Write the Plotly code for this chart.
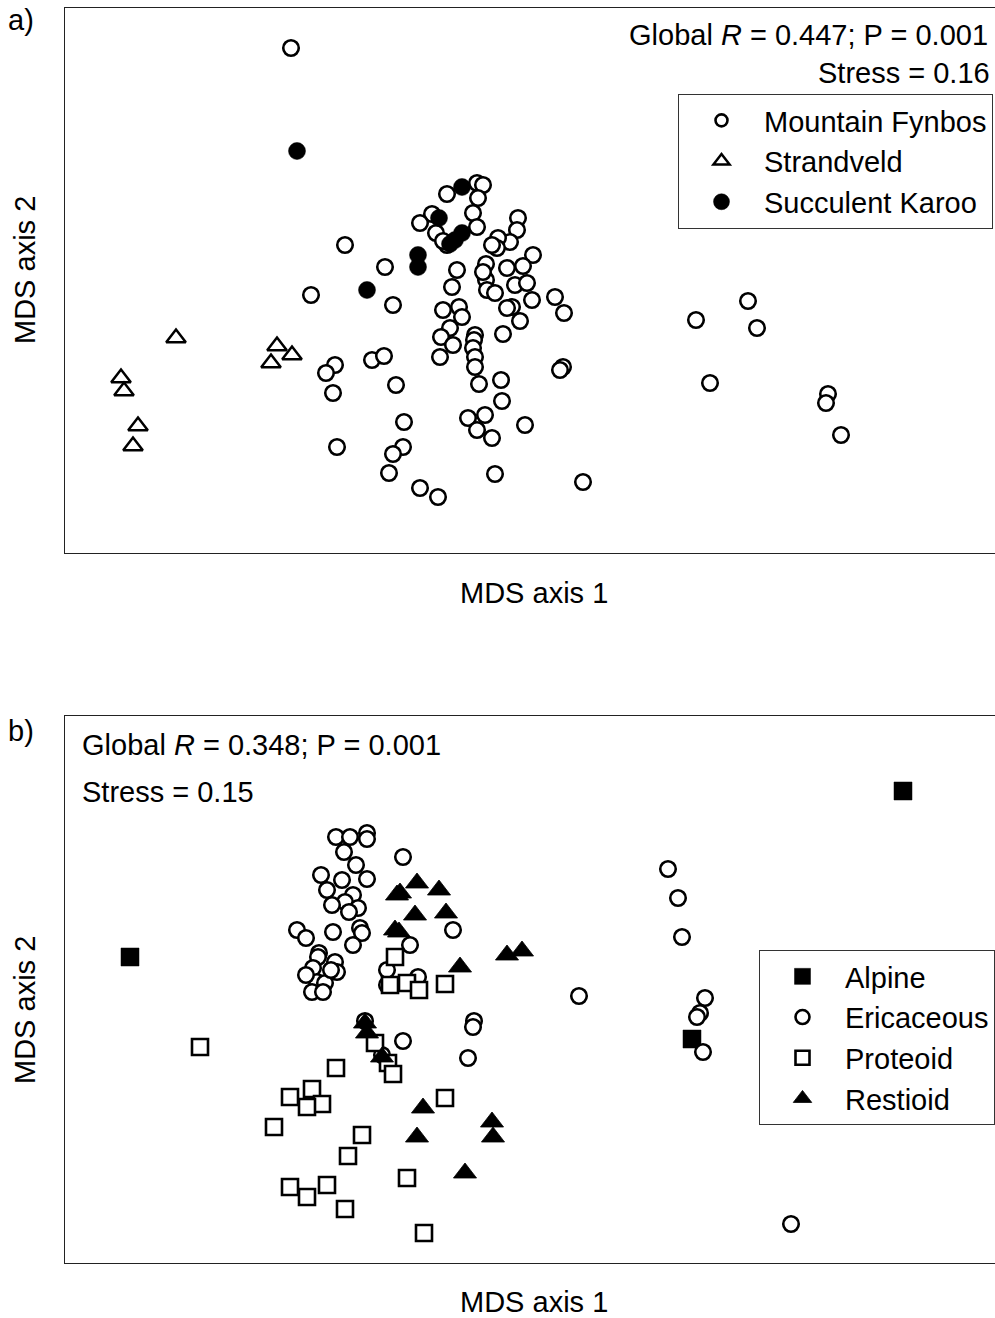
import plotly.graph_objects as go

# ---------------- Panel a: MDS coordinates ----------------
fyn_x = [291, 447, 477, 483, 478, 432, 420, 436, 473, 477, 447, 443, 518, 517, 510, 498, 497, 533, 486, 507,
         523, 457, 452, 486, 487, 495, 515, 527, 532, 512, 507, 520, 555, 564, 443, 459, 462, 450, 441, 453,
         440, 475, 474, 473, 475, 475, 503, 563, 560, 393, 479, 501, 396, 502, 404, 468, 485, 477, 492, 525,
         403, 393, 389, 495, 420, 438, 583, 345, 385, 311, 335, 326, 372, 384, 337, 333, 696, 748, 757, 710,
         828, 826, 841, 483, 492]
fyn_y = [48, 194, 183, 185, 198, 214, 223, 233, 213, 227, 245, 241, 218, 230, 242, 238, 248, 255, 264, 268,
         266, 270, 287, 280, 290, 293, 285, 283, 300, 307, 308, 321, 297, 313, 310, 307, 317, 328, 337, 345,
         357, 335, 340, 348, 357, 367, 334, 367, 370, 305, 384, 380, 385, 401, 422, 418, 415, 430, 438, 425,
         447, 454, 473, 474, 488, 497, 482, 245, 267, 295, 365, 373, 360, 356, 447, 393, 320, 301, 328, 383,
         394, 403, 435, 272, 245]

str_x = [176, 277, 271, 292, 121, 124, 138, 133]
str_y = [338, 346, 363, 355, 378, 391, 426, 446]

suc_x = [297, 462, 439, 462, 455, 450, 418, 418, 367]
suc_y = [151, 187, 218, 233, 240, 244, 255, 267, 290]

# ---------------- Panel b ----------------
alp_x = [130, 903, 692]
alp_y = [957, 791, 1039]

eri_x = [336, 350, 367, 367, 344, 356, 403, 321, 342, 367, 327, 353, 345, 332, 358, 349, 297, 333, 360, 362,
         306, 353, 319, 318, 335, 337, 313, 317, 325, 312, 323, 453, 410, 387, 418, 387, 365, 403, 474, 473,
         468, 382, 579, 668, 678, 682, 705, 700, 697, 703, 791, 306, 331]
eri_y = [837, 837, 833, 839, 852, 865, 857, 875, 880, 879, 890, 895, 902, 905, 908, 912, 930, 932, 928, 933,
         938, 945, 953, 957, 962, 972, 968, 982, 983, 992, 992, 930, 945, 970, 977, 985, 1021, 1041, 1021, 1027,
         1058, 1055, 996, 869, 898, 937, 998, 1013, 1017, 1052, 1224, 975, 970]

pro_x = [395, 390, 407, 419, 445, 375, 388, 393, 336, 312, 290, 322, 307, 274, 362, 348, 407, 445, 290, 307,
         327, 345, 424, 200]
pro_y = [957, 985, 983, 990, 984, 1043, 1063, 1074, 1068, 1089, 1097, 1104, 1107, 1127, 1135, 1156, 1178, 1098, 1187, 1197,
         1185, 1209, 1233, 1047]

res_x = [417, 439, 397, 400, 415, 446, 395, 399, 460, 365, 367, 382, 423, 417, 492, 493, 465, 507, 522]
res_y = [883, 890, 895, 893, 915, 913, 930, 932, 967, 1023, 1033, 1057, 1108, 1137, 1122, 1137, 1173, 955, 951]

FONT = "Liberation Sans, Arial, sans-serif"
FS = 29
INK = "black"

fig = go.Figure()

def add(x, y, name, symbol, size, fill, lw, xa, ya, legend, lsize):
    fig.add_trace(go.Scatter(x=x, y=y, mode="markers", xaxis=xa, yaxis=ya, showlegend=False, hoverinfo="skip",
                             marker=dict(symbol=symbol, size=size, color=fill, line=dict(color=INK, width=lw))))
    fig.add_trace(go.Scatter(x=[None], y=[None], mode="markers", xaxis=xa, yaxis=ya, name=name, legend=legend,
                             marker=dict(symbol=symbol, size=lsize, color=fill, line=dict(color=INK, width=lw))))

# panel a
add(fyn_x, fyn_y, "Mountain Fynbos", "circle", 15.5, "white", 2.6, "x", "y", "legend", 12)
add(str_x, str_y, "Strandveld", "triangle-up", 17, "white", 2.5, "x", "y", "legend", 14)
add(suc_x, suc_y, "Succulent Karoo", "circle", 17, INK, 0.5, "x", "y", "legend", 16)
# panel b
add(alp_x, alp_y, "Alpine", "square", 18, INK, 0.5, "x2", "y2", "legend2", 16)
add(eri_x, eri_y, "Ericaceous", "circle", 15.5, "white", 2.6, "x2", "y2", "legend2", 14)
add(pro_x, pro_y, "Proteoid", "square", 16, "white", 2.6, "x2", "y2", "legend2", 14)
add(res_x, res_y, "Restioid", "triangle-up", 20, INK, 0.8, "x2", "y2", "legend2", 16)

W, H = 995, 1318
xdom = [65 / W, 1.0]
ax_common = dict(showgrid=False, zeroline=False, showticklabels=False, ticks="", showline=True,
                 linecolor="#222", linewidth=1)
fig.update_layout(
    width=W, height=H, autosize=False,
    margin=dict(l=0, r=0, t=0, b=0),
    paper_bgcolor="white", plot_bgcolor="white",
    font=dict(family=FONT, size=FS, color=INK),
    xaxis=dict(domain=xdom, range=[65, 995], mirror=True, anchor="y", **ax_common),
    yaxis=dict(domain=[1 - 553 / H, 1 - 8 / H], range=[553, 8], mirror=False, anchor="x", **ax_common),
    xaxis2=dict(domain=xdom, range=[65, 995], mirror=True, anchor="y2", **ax_common),
    yaxis2=dict(domain=[1 - 1263 / H, 1 - 716 / H], range=[1263, 716], mirror=False, anchor="x2", **ax_common),
    legend=dict(x=678 / W, y=1 - 94 / H, xanchor="left", yanchor="top", bgcolor="white",
                bordercolor="#333", borderwidth=1, itemwidth=75, font=dict(family=FONT, size=FS)),
    legend2=dict(x=759 / W, y=1 - 950 / H, xanchor="left", yanchor="top", bgcolor="white",
                 bordercolor="#333", borderwidth=1, itemwidth=75, font=dict(family=FONT, size=FS)),
)

ann = [
    dict(text="Global <i>R</i> = 0.447; P = 0.001", x=990 / W, y=1 - 35 / H, xanchor="right", yanchor="middle"),
    dict(text="Stress = 0.16", x=992 / W, y=1 - 73 / H, xanchor="right", yanchor="middle"),
    dict(text="Global <i>R</i> = 0.348; P = 0.001", x=80 / W, y=1 - 745 / H, xanchor="left", yanchor="middle"),
    dict(text="Stress = 0.15", x=80 / W, y=1 - 792 / H, xanchor="left", yanchor="middle"),
    dict(text="a)", x=6 / W, y=1 - 20 / H, xanchor="left", yanchor="middle"),
    dict(text="b)", x=6 / W, y=1 - 731 / H, xanchor="left", yanchor="middle"),
    dict(text="MDS axis 1", x=534 / W, y=1 - 593 / H, xanchor="center", yanchor="middle"),
    dict(text="MDS axis 1", x=534 / W, y=1 - 1302 / H, xanchor="center", yanchor="middle"),
    dict(text="MDS axis 2", x=25 / W, y=1 - 270 / H, xanchor="center", yanchor="middle", textangle=-90),
    dict(text="MDS axis 2", x=25 / W, y=1 - 1010 / H, xanchor="center", yanchor="middle", textangle=-90),
]
for a in ann:
    fig.add_annotation(xref="paper", yref="paper", showarrow=False, font=dict(family=FONT, size=FS, color=INK), **a)

fig.write_html("out.html")
